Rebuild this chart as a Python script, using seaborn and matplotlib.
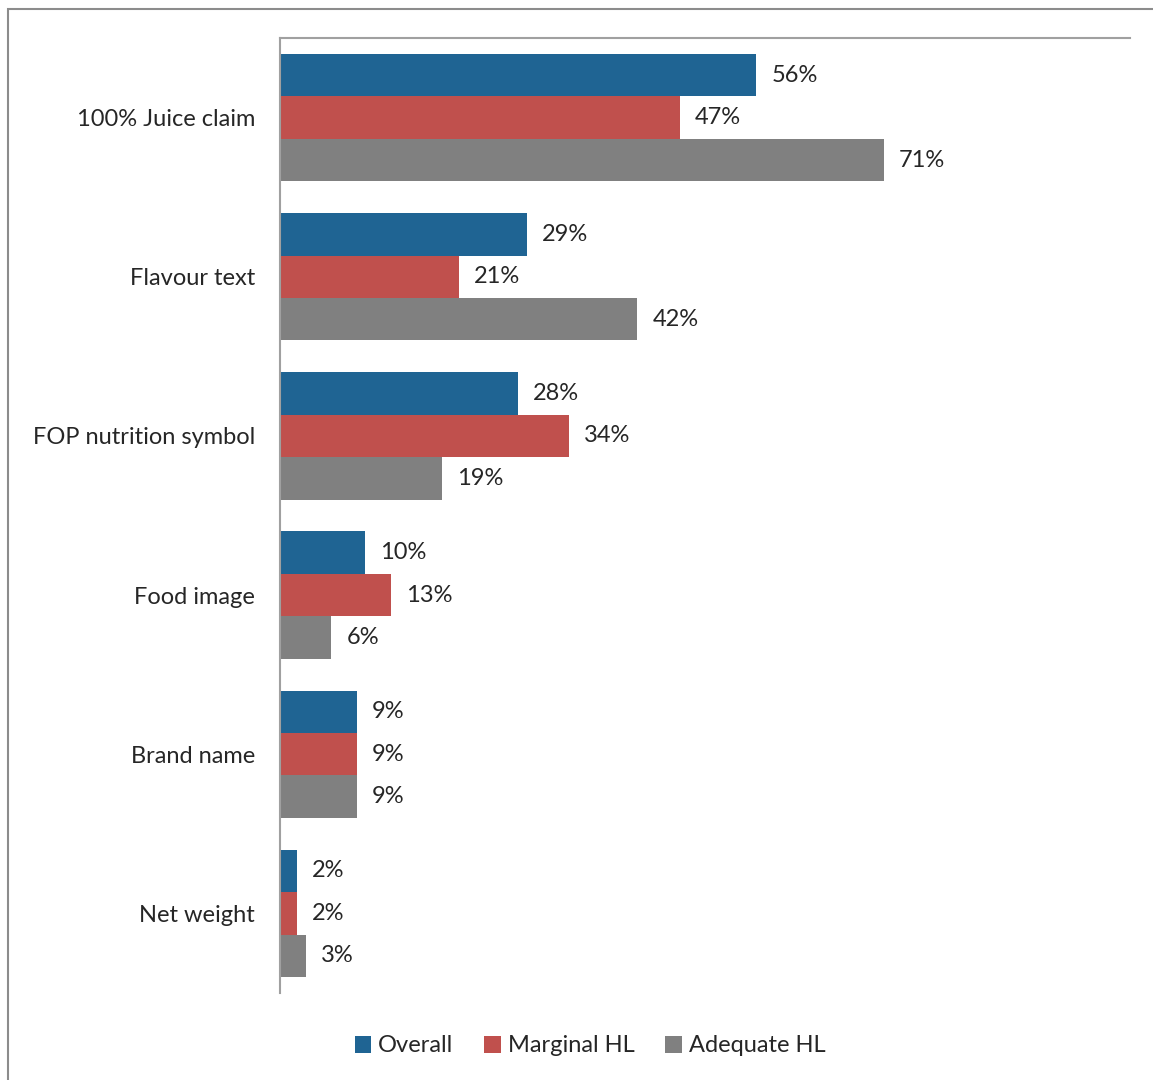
import pandas as pd
import seaborn as sns
import matplotlib.pyplot as plt
from matplotlib.patches import Rectangle

categories = ["100% Juice claim", "Flavour text", "FOP nutrition symbol",
              "Food image", "Brand name", "Net weight"]
overall = [56, 29, 28, 10, 9, 2]
marginal = [47, 21, 34, 13, 9, 2]
adequate = [71, 42, 19, 6, 9, 3]
groups = ["Overall", "Marginal HL", "Adequate HL"]
colors = ["#1F6493", "#C0504D", "#808080"]

df = pd.DataFrame({
    "category": categories * 3,
    "value": overall + marginal + adequate,
    "group": [g for g in groups for _ in categories],
})

sns.set_style("white")
plt.rcParams["font.family"] = ["Lato", "DejaVu Sans"]

fig = plt.figure(figsize=(11.53, 10.8), dpi=100)
W, H = 1153, 1080
ax = fig.add_axes([280 / W, 1 - 993 / H, 850 / W, (993 - 38) / H])

sns.barplot(data=df, y="category", x="value", hue="group", order=categories,
            hue_order=groups, palette=colors, orient="h", width=0.8,
            saturation=1, linewidth=0, ax=ax, legend=True)

for cont in ax.containers:
    ax.bar_label(cont, labels=[f"{v:.0f}%" for v in cont.datavalues],
                 padding=11, fontsize=17)

ax.set_xlim(0, 100)
ax.set_ylim(5.5, -0.5)
ax.set_xlabel("")
ax.set_ylabel("")
ax.set_xticks([])
ax.tick_params(axis="y", length=0, pad=18, labelsize=17)
for s in ["right", "bottom"]:
    ax.spines[s].set_visible(False)
for s in ["left", "top"]:
    ax.spines[s].set_color("#A0A0A0")
    ax.spines[s].set_linewidth(1.5)

ax.legend(loc="center", bbox_to_anchor=(590 / W, 1 - 1046 / H),
          bbox_transform=fig.transFigure, ncol=3, frameon=False,
          fontsize=17, handlelength=0.7, handleheight=0.7,
          handletextpad=0.3, columnspacing=1.3)

fig.patches.append(Rectangle((8 / W, -0.1), 1.2, 1 + 0.1 - 9 / H,
                             transform=fig.transFigure, fill=False,
                             edgecolor="#8C8C8C", linewidth=1.5))

fig.savefig("out.png", dpi=100)
